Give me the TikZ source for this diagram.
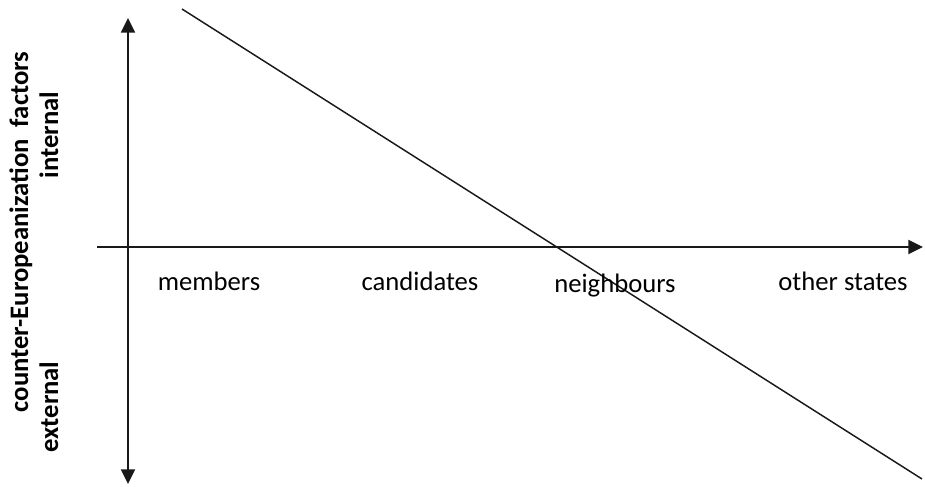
\documentclass[tikz,border=0pt]{standalone}
\usepackage{fontspec}
\setmainfont{Carlito}
\usetikzlibrary{arrows.meta}

\begin{document}
\begin{tikzpicture}[
    x=0.75pt, y=-0.75pt,
    >={Triangle[length=11pt, width=10.5pt]},
    axisarrow/.style={line width=1.5pt, draw=black!90},
    trendline/.style={line width=1.1pt, draw=black!90},
    catlabel/.style={
        font=\fontsize{20}{24}\selectfont,
        anchor=base,
        inner sep=0pt
    },
    factorlabel/.style={
        font=\fontsize{20}{24}\selectfont\bfseries,
        rotate=90,
        anchor=base,
        inner sep=0pt
    }
]
\useasboundingbox (0,0) rectangle (925,486);

% axes
\coordinate (ytop)   at (128,18);
\coordinate (ybot)   at (128,484);
\coordinate (xleft)  at (97,247);
\coordinate (xright) at (923,247);

\draw[axisarrow, <->] (ytop) -- (ybot);
\draw[axisarrow, ->]  (xleft) -- (xright);

% trend
\coordinate (trendstart) at (182,9);
\coordinate (trendend)   at (922,479);
\draw[trendline] (trendstart) -- (trendend);

% categories on the horizontal axis
\node[catlabel] (members)    at (209,290) {members};
\node[catlabel] (candidates) at (420,290) {candidates};
\node[catlabel] (neighbours) at (615,292) {neighbours};
\node[catlabel] (others)     at (843,290) {other states};

% factors on the vertical axis
\node[factorlabel] (factors)  at (28,232) {counter-Europeanization\ \ factors};
\node[factorlabel] (internal) at (58,135) {internal};
\node[factorlabel] (external) at (58,407) {external};

\end{tikzpicture}
\end{document}
